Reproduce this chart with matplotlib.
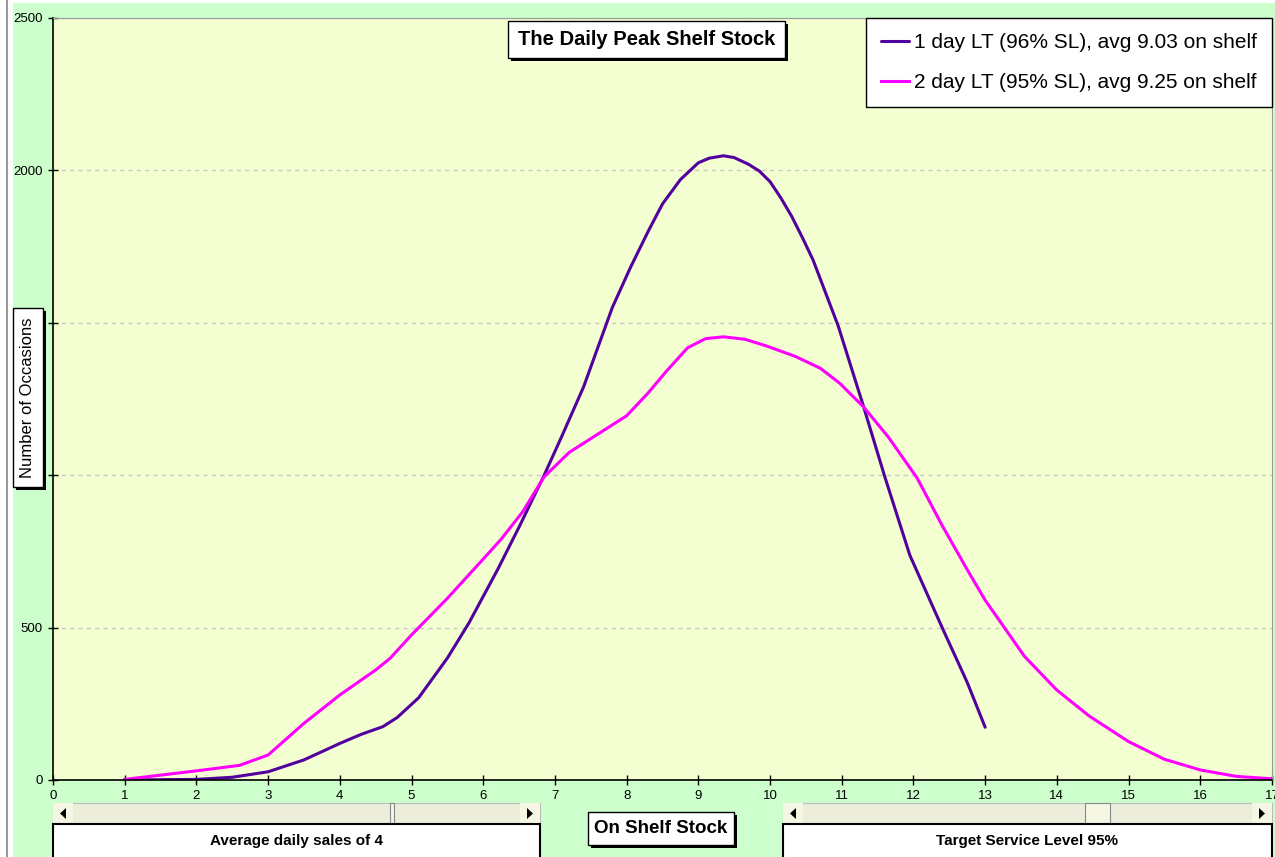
import numpy as np
import matplotlib
matplotlib.use('Agg')
import matplotlib.pyplot as plt
from matplotlib.patches import Rectangle, Polygon

plt.rcParams['font.family'] = ['Liberation Sans', 'DejaVu Sans']

# values (On Shelf Stock -> Number of Occasions)
lt1_x = [1.0, 1.5, 2.0, 2.5, 3.0, 3.5, 4.0, 4.3, 4.6, 4.8, 5.1, 5.5, 5.8, 6.2, 6.5,
         6.85, 7.1, 7.4, 7.8, 8.05, 8.3, 8.5, 8.75, 9.0, 9.15, 9.35, 9.5, 9.7, 9.85,
         10.0, 10.15, 10.3, 10.45, 10.6, 10.95, 11.3, 11.6, 11.95, 12.4, 12.75, 13.0]
lt1_y = [0, 1, 2, 9, 27, 66, 120, 150, 175, 205, 270, 400, 515, 690, 830,
         1000, 1130, 1290, 1550, 1680, 1800, 1890, 1970, 2025, 2040, 2048, 2042, 2020, 1998,
         1963, 1910, 1850, 1780, 1706, 1490, 1228, 995, 737, 500, 320, 173]

lt2_x = [1.0, 1.5, 2.0, 2.6, 3.0, 3.5, 4.0, 4.5, 4.7, 5.0, 5.5, 6.0, 6.25, 6.55,
         6.85, 7.2, 7.7, 8.0, 8.3, 8.55, 8.85, 9.1, 9.35, 9.65, 9.95, 10.35, 10.7,
         10.97, 11.3, 11.65, 12.05, 12.4, 12.75, 13.0, 13.55, 14.0, 14.45, 15.0,
         15.5, 16.0, 16.5, 17.0]
lt2_y = [2, 16, 30, 48, 82, 186, 279, 361, 399, 476, 596, 725, 790, 880,
         995, 1075, 1150, 1195, 1270, 1340, 1418, 1448, 1454, 1446, 1424, 1390, 1351,
         1302, 1225, 1125, 991, 835, 690, 590, 405, 295, 210, 126,
         68, 33, 12, 4]

labels = ['1 day LT (96% SL), avg 9.03 on shelf',
          '2 day LT (95% SL), avg 9.25 on shelf']
colors = ['#52009E', '#FF00FF']
y_ticks = [0, 500, 1000, 1500, 2000, 2500]
# 1000 and 1500 sit under the axis title box in the original
y_tick_labels = ['0', '500', '', '', '2000', '2500']

W, H = 1275, 857
fig = plt.figure(figsize=(W / 100, H / 100), dpi=100, facecolor='#CCFFCC')
ax = fig.add_axes([53 / W, 1 - 780 / H, (1272 - 53) / W, 762 / H])
ax.set_facecolor('#F3FFD0')

ax.plot(lt1_x, lt1_y, color=colors[0], lw=2.2, label=labels[0], solid_capstyle='round')
ax.plot(lt2_x, lt2_y, color=colors[1], lw=2.2, label=labels[1], clip_on=False)

ax.set_xlim(0, 17)
ax.set_ylim(0, 2500)
ax.set_xticks(range(0, 18))
ax.set_yticks(y_ticks)
ax.set_yticklabels(y_tick_labels)
ax.tick_params(direction='inout', length=7, width=1, labelsize=9.5, colors='black', pad=4)
ax.grid(axis='y', color='#C8C8C8', linestyle=(0, (3, 3)), lw=1)
ax.set_axisbelow(True)
for s in ['left', 'bottom']:
    ax.spines[s].set_color('black')
    ax.spines[s].set_linewidth(1.2)
for s in ['top', 'right']:
    ax.spines[s].set_color('#999999')

leg = ax.legend(loc='upper right', bbox_to_anchor=(1, 1), borderaxespad=0,
                fancybox=False, framealpha=1, edgecolor='black', fontsize=15,
                handlelength=1.35, handletextpad=0.25, labelspacing=1.0,
                borderpad=0.72)
leg.get_frame().set_linewidth(1)

# overlay in pixel coordinates for the boxes and scroll bars
ov = fig.add_axes([0, 0, 1, 1], zorder=5)
ov.set_xlim(0, W)
ov.set_ylim(H, 0)
ov.axis('off')
ov.patch.set_visible(False)

# window edges
ov.add_patch(Rectangle((0, 0), W, 3, facecolor='white', lw=0))
ov.add_patch(Rectangle((0, 0), 13, H, facecolor='white', lw=0))
ov.add_patch(Rectangle((6, 0), 2, H, facecolor='#999999', lw=0))


def shadow_box(x0, y0, x1, y1, text, size, weight='bold', rot=0):
    ov.add_patch(Rectangle((x0 + 3, y0 + 3), x1 - x0, y1 - y0, facecolor='black', lw=0))
    ov.add_patch(Rectangle((x0, y0), x1 - x0, y1 - y0, facecolor='white',
                           edgecolor='black', lw=1))
    ov.text((x0 + x1) / 2, (y0 + y1) / 2, text, fontsize=size, fontweight=weight,
            ha='center', va='center', rotation=rot)


shadow_box(508, 21, 785, 58, 'The Daily Peak Shelf Stock', 14.5)
shadow_box(13, 308, 43, 487, 'Number of Occasions', 12, weight='normal', rot=90)
shadow_box(588, 812, 734, 845, 'On Shelf Stock', 13.5)


def scroll_bar(x0, x1, thumb0, thumb1, text):
    y0, y1 = 803, 824
    ov.add_patch(Rectangle((x0, y0), x1 - x0, y1 - y0, facecolor='#EDEDDC',
                           edgecolor='#BBBBBB', lw=0.8))
    ov.add_patch(Rectangle((x0, y0), 20, y1 - y0, facecolor='#F6F6E4', lw=0))
    ov.add_patch(Rectangle((x1 - 20, y0), 20, y1 - y0, facecolor='#F6F6E4', lw=0))
    ov.add_patch(Rectangle((thumb0, y0), thumb1 - thumb0, y1 - y0,
                           facecolor='#F6F6E4', edgecolor='#888888', lw=0.8))
    ov.add_patch(Polygon([[x0 + 13, y0 + 5], [x0 + 13, y1 - 5], [x0 + 7, (y0 + y1) / 2]],
                         facecolor='black', lw=0))
    ov.add_patch(Polygon([[x1 - 13, y0 + 5], [x1 - 13, y1 - 5], [x1 - 7, (y0 + y1) / 2]],
                         facecolor='black', lw=0))
    ov.add_patch(Rectangle((x0, y1), x1 - x0, 40, facecolor='white',
                           edgecolor='black', lw=1.5))
    ov.text((x0 + x1) / 2, 841, text, fontsize=11, fontweight='bold',
            ha='center', va='center')


scroll_bar(53, 540, 390, 394, 'Average daily sales of 4')
scroll_bar(783, 1272, 1085, 1110, 'Target Service Level 95%')

fig.savefig('out.png', dpi=100, facecolor=fig.get_facecolor())
